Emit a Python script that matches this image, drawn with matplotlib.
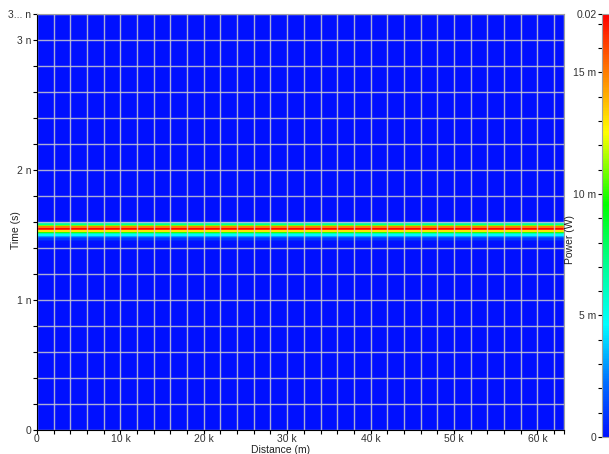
import numpy as np
import matplotlib
matplotlib.use("Agg")
import matplotlib.pyplot as plt
from matplotlib.colors import LinearSegmentedColormap
from matplotlib.ticker import MultipleLocator, FixedLocator

plt.rcParams["font.family"] = ["Liberation Sans", "DejaVu Sans"]

# distance span of the fibre (m)
distance = np.array([0.0, 63200.0])

# pulse time profile (ns) and peak power (mW)
time_ns = np.array([0.0, 1.430, 1.445, 1.460, 1.470, 1.480, 1.490, 1.500, 1.510,
                    1.520, 1.530, 1.540, 1.550, 1.565, 1.575, 1.585, 1.595,
                    1.605, 1.620, 3.2])
power_mw = np.array([0.0, 0.0, 0.1, 0.5, 1.0, 1.8, 3.0, 4.5, 6.5,
                     10.0, 13.0, 16.5, 17.4, 15.0, 11.0, 7.0, 3.0,
                     0.3, 0.0, 0.0])

x_ticks = [0, 10e3, 20e3, 30e3, 40e3, 50e3, 60e3]
x_labels = ["0", "10 k", "20 k", "30 k", "40 k", "50 k", "60 k"]
y_ticks = [0, 1e-9, 2e-9, 3e-9, 3.2e-9]
y_labels = ["0", "1 n", "2 n", "3 n", "3... n"]
cb_labels = ["0", "5 m", "10 m", "15 m", "0.02"]

t = time_ns * 1e-9
p = power_mw * 1e-3
Z = np.tile(p[:, None], (1, len(distance)))

cmap = LinearSegmentedColormap.from_list("pw", [
    (0.0, "#0010ff"), (0.13, "#0070ff"), (0.265, "#00ffff"),
    (0.41, "#00ff90"), (0.55, "#00ff00"), (0.72, "#ffff00"),
    (0.86, "#ff8000"), (1.0, "#ff0000")])
vmax = p.max()

fig = plt.figure(figsize=(6.09, 4.54), dpi=100)
ax = fig.add_axes([37/609, 1-430/454, (564-37)/609, (430-14)/454])
mesh = ax.pcolormesh(distance, t, Z, cmap=cmap, vmin=0, vmax=vmax, shading="nearest")
ax.set_xlim(0, 63200)
ax.set_ylim(0, 3.2e-9)

ax.set_xticks(x_ticks + [63200])
ax.set_xticklabels(x_labels + [""])
ax.xaxis.set_minor_locator(MultipleLocator(2000))
ax.set_yticks(y_ticks)
ax.set_yticklabels(y_labels)
ax.yaxis.set_minor_locator(MultipleLocator(0.2e-9))
ax.tick_params(which="both", direction="out", length=3, width=0.8,
               labelsize=7.5, labelcolor="#333333", pad=1)
ax.tick_params(axis="x", pad=0)
ax.grid(True, which="both", color="#c8c8d0", linewidth=1, alpha=0.85)
for s in ["top", "right"]:
    ax.spines[s].set_color("#a0a0a0")
for s in ["left", "bottom"]:
    ax.spines[s].set_color("black")

ax.set_xlabel("Distance (m)", fontsize=7.5, color="#222222")
ax.set_ylabel("Time (s)", fontsize=7.5, color="#222222")
ax.xaxis.set_label_coords(0.4615, -0.036)
ax.yaxis.set_label_coords(-0.031, 0.48)

cax = fig.add_axes([602/609, 1-437/454, 8/609, (437-14)/454])
cb = fig.colorbar(mesh, cax=cax)
cax.yaxis.set_ticks_position("left")
cb.set_ticks([0, 5e-3, 10e-3, 15e-3, vmax])
cb.set_ticklabels(cb_labels)
cax.yaxis.set_minor_locator(FixedLocator(np.arange(0, vmax, 1e-3)))
cax.tick_params(which="both", direction="out", length=3, width=0.8,
                labelsize=7.5, labelcolor="#333333", pad=1)
cb.outline.set_edgecolor("#a0a0a0")
fig.text(570/609, 1-240/454, "Power (W)", rotation=90, fontsize=7.5,
         ha="center", va="center", color="#222222")

fig.savefig("out.png", dpi=100)
